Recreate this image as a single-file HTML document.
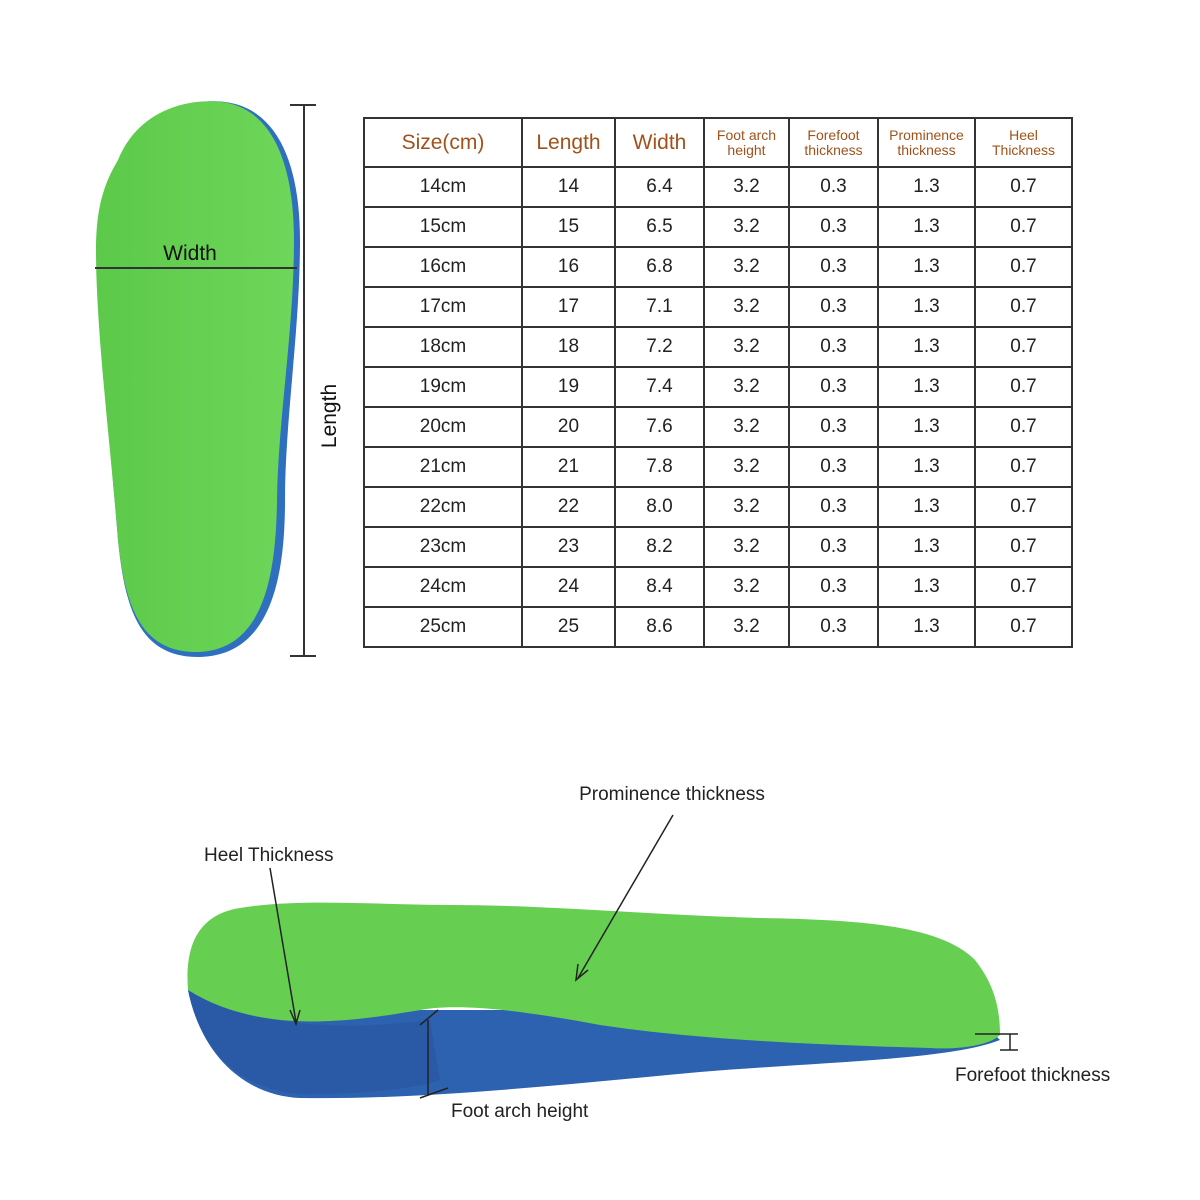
<!DOCTYPE html>
<html><head><meta charset="utf-8"><style>
body{margin:0;width:1200px;height:1200px;background:#fff;overflow:hidden;position:relative;font-family:"Liberation Sans",sans-serif}
table{position:absolute;left:363px;top:117px;border-collapse:collapse;}
td{border:2px solid #333;text-align:center;font-size:19px;color:#222;height:38px;padding:0}
tr.h td{height:47px;color:#a0521a;font-size:21px;line-height:1}
tr.h td.s{font-size:14px;line-height:15px}
</style></head><body>
<svg width="1200" height="1200" style="position:absolute;left:0;top:0">
<defs>
<linearGradient id="g" x1="0" x2="1"><stop offset="0" stop-color="#5cc94a"/><stop offset="1" stop-color="#6ed65a"/></linearGradient>
</defs>
<path d="M120,160 C140,110 190,98 225,102 C275,108 300,160 300,240 C300,330 285,420 285,500 C285,580 270,655 200,657 C140,658 125,610 118,540 C110,440 98,330 98,250 C98,210 105,185 120,160Z" fill="#2e6fbf"/>
<path d="M118,160 C138,110 188,98 222,102 C270,108 294,160 294,240 C294,330 278,420 277,500 C276,580 262,650 198,652 C140,653 125,605 118,540 C110,440 96,330 96,250 C96,210 103,185 118,160Z" fill="url(#g)"/>
<line x1="95" y1="268" x2="297" y2="268" stroke="#333" stroke-width="2"/>
<text x="190" y="260" font-size="21" text-anchor="middle" fill="#111" font-family="Liberation Sans">Width</text>
<line x1="304" y1="105" x2="304" y2="656" stroke="#333" stroke-width="2"/>
<line x1="290" y1="105" x2="316" y2="105" stroke="#333" stroke-width="2"/>
<line x1="290" y1="656" x2="316" y2="656" stroke="#333" stroke-width="2"/>
<text transform="translate(336,416) rotate(-90)" font-size="21" text-anchor="middle" fill="#111" font-family="Liberation Sans">Length</text>
<path d="M188,990 C200,1050 240,1095 300,1098 C420,1100 560,1085 700,1072 C820,1062 950,1060 1000,1040 L990,1030 C900,1040 700,1030 600,1010 L420,1010 C350,1020 280,1030 188,990Z" fill="#2d62b0"/>
<path d="M188,990 C200,1050 240,1090 300,1094 C360,1095 420,1088 440,1080 L430,1020 C350,1030 260,1030 188,990Z" fill="#2a5aa6"/>
<path d="M188,990 C185,950 195,915 240,908 C300,898 380,905 450,905 C550,905 650,915 760,918 C860,920 940,925 975,960 C995,985 1000,1010 1000,1035 C990,1045 960,1050 930,1048 C820,1045 700,1040 600,1025 C520,1010 460,1003 420,1010 C350,1022 260,1035 188,990Z" fill="#66cf52"/>
<g stroke="#222" stroke-width="1.5" fill="none">
<line x1="270" y1="868" x2="296" y2="1022"/><path d="M290,1010 L296,1024 L300,1010"/>
<line x1="673" y1="815" x2="578" y2="978"/><path d="M578,964 L576,980 L588,970"/>
<line x1="428" y1="1020" x2="428" y2="1095"/>
<line x1="420" y1="1025" x2="438" y2="1010"/><line x1="420" y1="1098" x2="448" y2="1088"/>
<line x1="975" y1="1034" x2="1018" y2="1034"/><line x1="1000" y1="1050" x2="1018" y2="1050"/><line x1="1010" y1="1034" x2="1010" y2="1050"/>
</g>
<g font-family="Liberation Sans" font-size="19" fill="#222">
<text x="672" y="800" text-anchor="middle">Prominence thickness</text>
<text x="204" y="861">Heel Thickness</text>
<text x="451" y="1117">Foot arch height</text>
<text x="955" y="1081">Forefoot thickness</text>
</g>
</svg>
<table>
<colgroup><col style="width:158px"><col style="width:93px"><col style="width:89px"><col style="width:85px"><col style="width:89px"><col style="width:97px"><col style="width:97px"></colgroup>
<tr class="h"><td>Size(cm)</td><td>Length</td><td>Width</td><td class="s">Foot arch<br>height</td><td class="s">Forefoot<br>thickness</td><td class="s">Prominence<br>thickness</td><td class="s">Heel<br>Thickness</td></tr>
<tr><td>14cm</td><td>14</td><td>6.4</td><td>3.2</td><td>0.3</td><td>1.3</td><td>0.7</td></tr>
<tr><td>15cm</td><td>15</td><td>6.5</td><td>3.2</td><td>0.3</td><td>1.3</td><td>0.7</td></tr>
<tr><td>16cm</td><td>16</td><td>6.8</td><td>3.2</td><td>0.3</td><td>1.3</td><td>0.7</td></tr>
<tr><td>17cm</td><td>17</td><td>7.1</td><td>3.2</td><td>0.3</td><td>1.3</td><td>0.7</td></tr>
<tr><td>18cm</td><td>18</td><td>7.2</td><td>3.2</td><td>0.3</td><td>1.3</td><td>0.7</td></tr>
<tr><td>19cm</td><td>19</td><td>7.4</td><td>3.2</td><td>0.3</td><td>1.3</td><td>0.7</td></tr>
<tr><td>20cm</td><td>20</td><td>7.6</td><td>3.2</td><td>0.3</td><td>1.3</td><td>0.7</td></tr>
<tr><td>21cm</td><td>21</td><td>7.8</td><td>3.2</td><td>0.3</td><td>1.3</td><td>0.7</td></tr>
<tr><td>22cm</td><td>22</td><td>8.0</td><td>3.2</td><td>0.3</td><td>1.3</td><td>0.7</td></tr>
<tr><td>23cm</td><td>23</td><td>8.2</td><td>3.2</td><td>0.3</td><td>1.3</td><td>0.7</td></tr>
<tr><td>24cm</td><td>24</td><td>8.4</td><td>3.2</td><td>0.3</td><td>1.3</td><td>0.7</td></tr>
<tr><td>25cm</td><td>25</td><td>8.6</td><td>3.2</td><td>0.3</td><td>1.3</td><td>0.7</td></tr>
</table>
</body></html>
